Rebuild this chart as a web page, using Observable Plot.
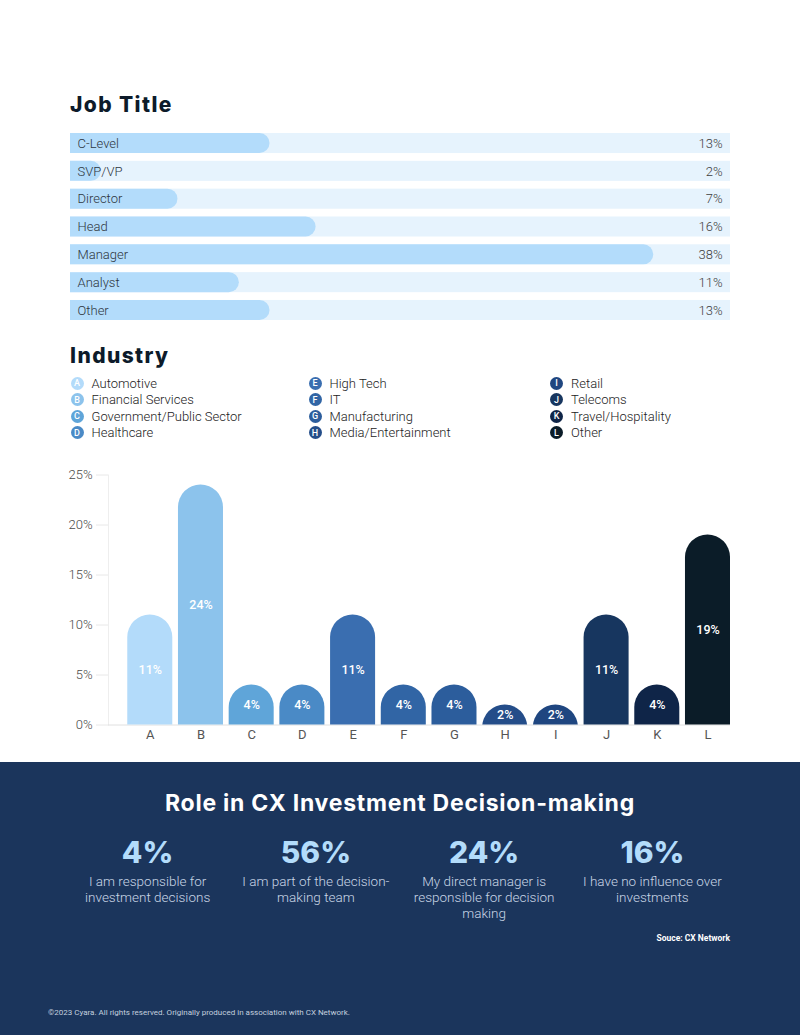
<!DOCTYPE html>
<html>
<head>
<meta charset="utf-8">
<script src="https://cdn.jsdelivr.net/npm/d3@7"></script>
<script src="https://cdn.jsdelivr.net/npm/@observablehq/plot@0.6"></script>
<style>
  html, body { margin: 0; padding: 0; background: #ffffff; }
  #page { position: relative; width: 800px; height: 1035px; overflow: hidden; background: #ffffff; font-family: Roboto, sans-serif; }
  .abs { position: absolute; }
  .heading { font-family: Inter, sans-serif; font-weight: 800; font-size: 21px; line-height: 21px; color: #0d1b2a; margin: 0; letter-spacing: 1.4px; }
  #legend .item { position: absolute; height: 16.5px; display: flex; align-items: center; font-size: 13px; font-weight: 300; color: #222; white-space: nowrap; }
  #legend .dot { width: 13px; height: 13px; border-radius: 50%; color: #fff; font-size: 9px; font-weight: 500; display: flex; align-items: center; justify-content: center; margin-right: 8px; flex: none; }
  #roles-band { position: absolute; left: 0; top: 762px; width: 800px; height: 273px; background: #1b355c; }
  #roles-title { left: 0; width: 800px; text-align: center; top: 792px; font-family: Inter, sans-serif; font-weight: 700; font-size: 23px; line-height: 23px; color: #ffffff; letter-spacing: 0.75px; }
  #source { right: 70px; top: 934px; font-size: 8.5px; line-height: 8.5px; font-weight: 700; color: #ffffff; }
  #footer { left: 48px; top: 1009px; font-size: 8px; line-height: 8px; color: #c3cfdf; }
  svg g[aria-label="role-share"] text { letter-spacing: 3px; }
</style>
</head>
<body>
<div id="page">
  <h2 class="heading abs" style="left:70px; top:94px;">Job Title</h2>
  <div id="jobs" class="abs" style="left:0; top:120px;"></div>

  <h2 class="heading abs" style="left:70px; top:345px;">Industry</h2>
  <div id="legend" class="abs" style="left:0; top:374.75px; width:800px; height:70px;"></div>
  <div id="industry" class="abs" style="left:0; top:455px;"></div>

  <div id="roles-band"></div>
  <div id="roles-title" class="abs">Role in CX Investment Decision-making</div>
  <div id="roles" class="abs" style="left:0; top:830px;"></div>
  <div id="source" class="abs">Souce: CX Network</div>
  <div id="footer" class="abs">©2023 Cyara. All rights reserved. Originally produced in association with CX Network.</div>
</div>

<script>
// Job title breakdown (percent of respondents)
const jobTitles = ["C-Level", "SVP/VP", "Director", "Head", "Manager", "Analyst", "Other"];
const jobShares = [13, 2, 7, 16, 38, 11, 13];

// Industry breakdown
const industryCodes = ["A", "B", "C", "D", "E", "F", "G", "H", "I", "J", "K", "L"];
const industryNames = ["Automotive", "Financial Services", "Government/Public Sector", "Healthcare",
  "High Tech", "IT", "Manufacturing", "Media/Entertainment",
  "Retail", "Telecoms", "Travel/Hospitality", "Other"];
const industryShares = [11, 24, 4, 4, 11, 4, 4, 2, 2, 11, 4, 19];
const industryColors = ["#b3dbfa", "#8cc3ec", "#5fa5d9", "#4a8ac6", "#3a6eb0", "#3165a5",
  "#2c5d9c", "#244d89", "#1f4680", "#17365f", "#0f2548", "#0b1c28"];
const industryTicks = [0, 5, 10, 15, 20, 25];

// Role in CX investment decision-making
const roleShares = [4, 56, 24, 16];
const roleLabels = [
  "I am responsible for\ninvestment decisions",
  "I am part of the decision-\nmaking team",
  "My direct manager is\nresponsible for decision\nmaking",
  "I have no influence over\ninvestments"
];

const jobRows = jobTitles.map((title, i) => ({title, share: jobShares[i]}));
const industryRows = industryCodes.map((code, i) => ({code, name: industryNames[i], share: industryShares[i]}));
const roleRows = roleShares.map((share, i) => ({i, share, label: roleLabels[i]}));

const baseStyle = {fontFamily: "Roboto, sans-serif", fontSize: "13px", background: "transparent", overflow: "visible"};

// --- Job title: rounded progress bars on a pale track
const jobMax = 43;
document.getElementById("jobs").append(Plot.plot({
  width: 800,
  height: 210,
  marginLeft: 70,
  marginRight: 70,
  marginTop: 13,
  marginBottom: 10,
  style: baseStyle,
  x: {domain: [0, jobMax], axis: null},
  y: {domain: jobTitles, axis: null, paddingInner: 0.28, paddingOuter: 0, round: false},
  marks: [
    Plot.barX(jobRows, {y: "title", x1: 0, x2: jobMax, fill: "#e6f3fd"}),
    Plot.barX(jobRows, {y: "title", x: "share", fill: "#b3dcfb", rx: 10, insetLeft: -20, clip: true}),
    Plot.text(jobRows, {y: "title", x: 0, text: "title", textAnchor: "start", dx: 7, fill: "#2e3640", fontSize: 13, fontWeight: 300}),
    Plot.text(jobRows, {y: "title", x: jobMax, text: d => `${d.share}%`, textAnchor: "end", dx: -8, fill: "#3d3d3d", fontSize: 13, fontWeight: 300})
  ]
}));

// --- Industry legend (lettered swatches in three columns)
const legend = document.getElementById("legend");
const legendLefts = [70.5, 308.5, 550];
industryRows.forEach((d, i) => {
  const item = document.createElement("div");
  item.className = "item";
  item.style.left = legendLefts[Math.floor(i / 4)] + "px";
  item.style.top = (i % 4) * 16.5 + "px";
  const dot = document.createElement("span");
  dot.className = "dot";
  dot.style.background = industryColors[i];
  dot.textContent = d.code;
  const label = document.createElement("span");
  label.textContent = d.name;
  item.append(dot, label);
  legend.append(item);
});

// --- Industry column chart with pill-topped bars
document.getElementById("industry").append(Plot.plot({
  width: 800,
  height: 290,
  marginLeft: 108,
  marginRight: 70,
  marginTop: 19.5,
  marginBottom: 20.5,
  style: baseStyle,
  x: {domain: industryCodes, paddingInner: 0.112, paddingOuter: 0.19, align: 1, round: false},
  y: {domain: [0, 25]},
  color: {domain: industryCodes, range: industryColors},
  marks: [
    Plot.frame({anchor: "left", stroke: "#eeeeee"}),
    Plot.ruleY([0], {stroke: "#e0e0e0"}),
    Plot.barY(industryRows, {x: "code", y: "share", fill: "code", rx: 22.5, insetBottom: -30, clip: true}),
    Plot.text(industryRows, {x: "code", y: d => d.share / 2, text: d => `${d.share}%`, fill: "#ffffff", fontSize: 12.5, fontWeight: 500}),
    Plot.axisY({ticks: industryTicks, tickFormat: d => `${d}%`, tickSize: 12, tickPadding: 4, stroke: "#e8e8e8", fill: "#4a4a4a", fontSize: 13, fontWeight: 300, label: null}),
    Plot.axisX({tickSize: 0, tickPadding: 5, fill: "#555555", fontSize: 13, fontWeight: 400, label: null})
  ]
}));

// --- Role in CX investment decision-making: headline figures
document.getElementById("roles").append(Plot.plot({
  width: 800,
  height: 100,
  marginLeft: 63,
  marginRight: 64,
  marginTop: 0,
  marginBottom: 0,
  style: {...baseStyle, color: "#ffffff"},
  x: {type: "band", domain: d3.range(roleShares.length), axis: null, padding: 0, round: false},
  y: {domain: [0, 100], range: [0, 100], axis: null},
  marks: [
    Plot.text(roleRows, {x: "i", y: 23, text: d => `${d.share}%`, fill: "#b3dcfb", fontFamily: "Inter, sans-serif", fontWeight: 800, fontSize: 30, ariaLabel: "role-share"}),
    Plot.text(roleRows, {x: "i", y: 44.6, text: "label", lineAnchor: "top", lineHeight: 1.17, fill: "#c9d6e6", fontSize: 13.5, fontWeight: 300})
  ]
}));
</script>
</body>
</html>
